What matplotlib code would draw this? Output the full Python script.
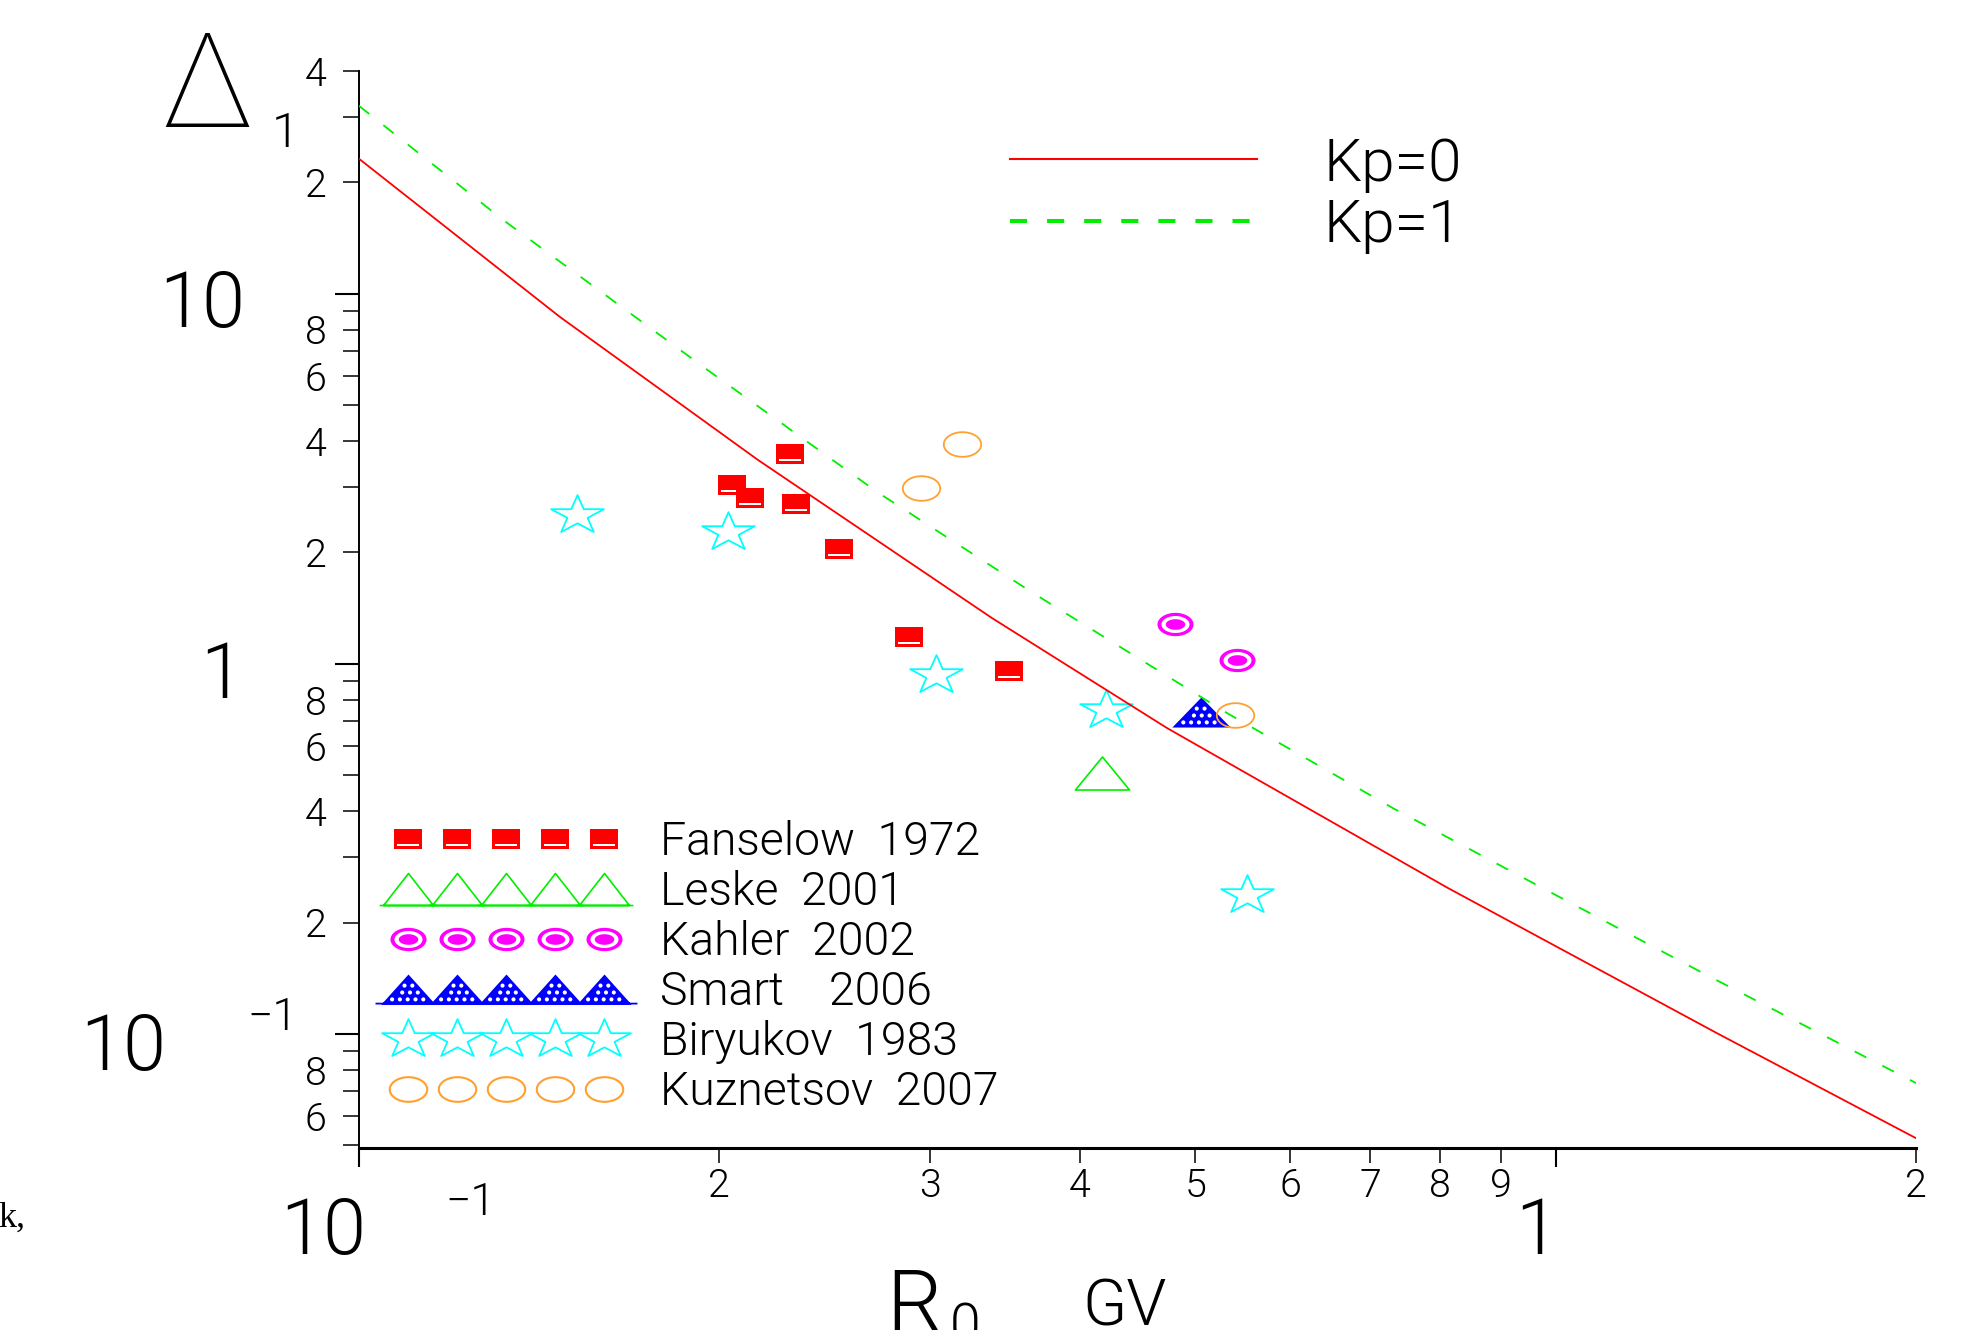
import numpy as np
import matplotlib
matplotlib.use("Agg")
import matplotlib.pyplot as plt
from matplotlib.path import Path
from matplotlib.lines import Line2D
from matplotlib.ticker import FixedLocator, NullFormatter
from matplotlib import font_manager

# ---- values (R0 in GV, Delta) ----
kp0_r = [0.1, 0.1472, 0.2154, 0.3379, 0.4732, 0.8125, 1.363, 2.0]
kp0_d = [23.17, 8.66, 3.56, 1.331, 0.6714, 0.2481, 0.1006, 0.0523]
kp1_r = [0.1, 0.1319, 0.1939, 0.2709, 0.3657, 0.5311, 0.7307, 0.964, 1.337, 2.0]
kp1_d = [32.2, 15.85, 6.35, 2.916, 1.555, 0.737, 0.408, 0.2528, 0.1443, 0.0737]

fanselow_r = [0.229, 0.205, 0.212, 0.232, 0.252, 0.288, 0.349]
fanselow_d = [3.69, 3.05, 2.81, 2.71, 2.05, 1.18, 0.957]
leske_r = [0.418]
leske_d = [0.507]
kahler_r = [0.481, 0.542]
kahler_d = [1.28, 1.025]
smart_r = [0.5055]
smart_d = [0.742]
biryukov_r = [0.152, 0.2035, 0.3034, 0.421, 0.552]
biryukov_d = [2.53, 2.27, 0.934, 0.751, 0.2375]
kuznetsov_r = [0.319, 0.295, 0.540]
kuznetsov_d = [3.93, 2.99, 0.728]

data_labels = ["Fanselow  1972", "Leske  2001", "Kahler  2002",
               "Smart    2006", "Biryukov  1983", "Kuznetsov  2007"]
kp_labels = ["Kp=0", "Kp=1"]

y_minor = [0.05, 0.06, 0.07, 0.08, 0.09, 0.2, 0.3, 0.4, 0.5, 0.6, 0.7, 0.8, 0.9,
           2, 3, 4, 5, 6, 7, 8, 9, 20, 30, 40]
y_minor_lab = ["", "6", "", "8", "", "2", "", "4", "", "6", "", "8", "",
               "2", "", "4", "", "6", "", "8", "", "2", "", "4"]
x_minor = [0.2, 0.3, 0.4, 0.5, 0.6, 0.7, 0.8, 0.9, 2]
x_minor_lab = ["2", "3", "4", "5", "6", "7", "8", "9", "2"]

RED, GREEN, MAG, BLUE, CYAN, ORANGE = "#ff0000", "#00ee00", "#ff00ff", "#0000ff", "#00ffff", "#ffa030"

# thin font if one is around
avail = {(f.name, f.weight) for f in font_manager.fontManager.ttflist}
fam, wt = "Liberation Sans", 400
for f_, w_ in [("Roboto", 300), ("Open Sans", 300), ("Lato", 300), ("DejaVu Sans", 200)]:
    if (f_, w_) in avail:
        fam, wt = f_, w_
        break
thin_wt = min([w for (n, w) in avail if n == fam and isinstance(w, int)] or [wt])
plt.rcParams["font.family"] = [fam, "DejaVu Sans"]
plt.rcParams["font.weight"] = wt
plt.rcParams["lines.scale_dashes"] = False


# ---- marker shapes ----
def ring(a, b, n=40, cw=False, cx=0.0, cy=0.0):
    t = np.linspace(0, 2 * np.pi, n, endpoint=False)
    if cw:
        t = -t
    return np.column_stack([cx + a * np.cos(t), cy + b * np.sin(t)])


def compound(rings, open_=()):
    verts, codes = [], []
    for r in rings:
        r = np.asarray(r, float)
        verts += list(r) + [r[0]]
        codes += [Path.MOVETO] + [Path.LINETO] * (len(r) - 1) + [Path.CLOSEPOLY]
    for seg in open_:
        verts += list(seg)
        codes += [Path.MOVETO] + [Path.LINETO] * (len(seg) - 1)
    return Path(verts, codes)


square_m = compound([[(-0.73, -0.5), (0.73, -0.5), (0.73, 0.5), (-0.73, 0.5)],
                     [(-0.55, -0.36), (-0.55, -0.27), (0.55, -0.27), (0.55, -0.36)]])
kahler_m = compound([ring(0.85, 0.55), ring(0.66, 0.40, cw=True), ring(0.46, 0.25)])
oval_m = compound([ring(0.76, 0.5)])
ang = np.pi / 2 + np.arange(10) * np.pi / 5
rad = np.where(np.arange(10) % 2 == 0, 1.0, 0.382)
star_m = compound([np.column_stack([1.36 * rad * np.cos(ang), rad * np.sin(ang)])])
leske_m = compound([[(-0.82, -0.5), (0.82, -0.5), (0, 0.5)]])
leske_leg = compound([[(-0.78, -0.5), (0.78, -0.5), (0, 0.5)]],
                     open_=[[(-0.9, -0.5), (0.9, -0.5)]])


def hatched_tri(hw, strip=None):
    rings = [[(-hw, -0.5), (hw, -0.5), (0, 0.5)]]
    for j, yy in enumerate([-0.33, -0.1, 0.13]):
        w = hw * (0.5 - yy) - 0.2
        xs = np.arange(-w, w + 1e-6, 0.26) + (0.13 if j % 2 else 0)
        for xx in xs[np.abs(xs) <= w]:
            rings.append(ring(0.07, 0.07, n=12, cw=True, cx=xx, cy=yy))
    if strip:
        rings.append([(-strip, -0.5), (strip, -0.5), (strip, -0.44), (-strip, -0.44)])
    return compound(rings)


smart_m = hatched_tri(0.97)
smart_leg = hatched_tri(0.9, strip=1.1)

# ---- figure ----
W, H = 1984, 1330
fig = plt.figure(figsize=(W / 100, H / 100), dpi=100)
ax = fig.add_axes([359 / W, 1 - 1148 / H, (1916 - 359) / W, (1148 - 71) / H])


def fp(x, y):
    return x / W, 1 - y / H


ax.set_xscale("log")
ax.set_yscale("log")
ax.set_xlim(0.1, 2.0)
ax.set_ylim(0.0492, 40.0)

ax.plot(fanselow_r, fanselow_d, ls="none", marker=square_m, ms=20.2, mfc=RED, mec=RED, mew=0)
ax.plot(leske_r, leske_d, ls="none", marker=leske_m, ms=39, mfc="none", mec=GREEN, mew=1.2)
ax.plot(kahler_r, kahler_d, ls="none", marker=kahler_m, ms=26, mfc=MAG, mec=MAG, mew=0)
ax.plot(smart_r, smart_d, ls="none", marker=smart_m, ms=42, mfc=BLUE, mec=BLUE, mew=0)
ax.plot(biryukov_r, biryukov_d, ls="none", marker=star_m, ms=38, mfc="none", mec=CYAN, mew=1.3)
ax.plot(kuznetsov_r, kuznetsov_d, ls="none", marker=oval_m, ms=27, mfc="none", mec=ORANGE, mew=1.3)

ax.plot(kp0_r, kp0_d, color=RED, lw=1.3, zorder=3)
ax.plot(kp1_r, kp1_d, color=GREEN, lw=1.3, dashes=(9.4, 13), zorder=3)

for s in ["top", "right"]:
    ax.spines[s].set_visible(False)
ax.spines["left"].set_linewidth(1.4)
ax.spines["bottom"].set_linewidth(2.2)

ax.xaxis.set_major_locator(FixedLocator([0.1, 1]))
ax.xaxis.set_major_formatter(NullFormatter())
ax.yaxis.set_major_locator(FixedLocator([0.1, 1, 10]))
ax.yaxis.set_major_formatter(NullFormatter())
ax.set_xticks(x_minor, x_minor_lab, minor=True)
ax.set_yticks(y_minor, y_minor_lab, minor=True)
ax.tick_params(axis="y", which="minor", direction="out", length=11.5, width=1.1, pad=12, labelsize=28.4)
ax.tick_params(axis="y", which="major", direction="out", length=17, width=1.5)
ax.tick_params(axis="x", which="minor", direction="out", length=10.8, width=1.1, pad=3.5, labelsize=28.4)
ax.tick_params(axis="x", which="major", direction="out", length=14, width=1.5)

# legends
data_handles = [
    Line2D([], [], ls="none", marker=square_m, ms=20.2, mfc=RED, mec=RED, mew=0),
    Line2D([], [], ls="none", marker=leske_leg, ms=41.5, mfc="none", mec=GREEN, mew=1.2),
    Line2D([], [], ls="none", marker=kahler_m, ms=26, mfc=MAG, mec=MAG, mew=0),
    Line2D([], [], ls="none", marker=smart_leg, ms=47.5, mfc=BLUE, mec=BLUE, mew=0),
    Line2D([], [], ls="none", marker=star_m, ms=38, mfc="none", mec=CYAN, mew=1.3),
    Line2D([], [], ls="none", marker=oval_m, ms=27, mfc="none", mec=ORANGE, mew=1.5),
]
leg1 = ax.legend(data_handles, data_labels, loc="upper left", bbox_to_anchor=(0.0228, 0.3045),
                 frameon=False, numpoints=5, fontsize=33.4, handlelength=4.82,
                 handletextpad=0.91, labelspacing=0.13, borderpad=0, borderaxespad=0)
ax.add_artist(leg1)
kp_handles = [Line2D([], [], color=RED, lw=1.5),
              Line2D([], [], color=GREEN, lw=2.9, dashes=(12.3, 14.4))]
ax.legend(kp_handles, kp_labels, loc="upper left", bbox_to_anchor=(0.4178, 0.9396),
          frameon=False, fontsize=43.5, handlelength=4.1, handletextpad=1.1,
          labelspacing=0.08, borderpad=0, borderaxespad=0)

# axis titles and decade labels
fig.text(*fp(161, 127), "Δ", fontsize=95, fontweight=thin_wt, ha="left", va="baseline")
fig.text(*fp(272, 147), "1", fontsize=35.5, ha="left", va="baseline")
fig.text(*fp(245, 327), "10", fontsize=55.7, ha="right", va="baseline")
fig.text(*fp(243, 698), "1", fontsize=55.7, ha="right", va="baseline")
fig.text(*fp(166, 1070), "10", fontsize=55.7, ha="right", va="baseline")
fig.text(*fp(298, 1030), "−1", fontsize=32, ha="right", va="baseline")
fig.text(*fp(366, 1254), "10", fontsize=55.7, ha="right", va="baseline")
fig.text(*fp(496, 1215), "−1", fontsize=32, ha="right", va="baseline")
fig.text(*fp(1558, 1254), "1", fontsize=55.7, ha="right", va="baseline")
fig.text(*fp(886, 1332), "R", fontsize=63, ha="left", va="baseline")
fig.text(*fp(950, 1343), "0", fontsize=40, ha="left", va="baseline")
fig.text(*fp(1082, 1326), "GV", fontsize=46.6, ha="left", va="baseline")
fig.text(*fp(25, 1227), "k,", fontsize=26, family="Liberation Serif", ha="right", va="baseline")

fig.savefig("out.png", dpi=100)
